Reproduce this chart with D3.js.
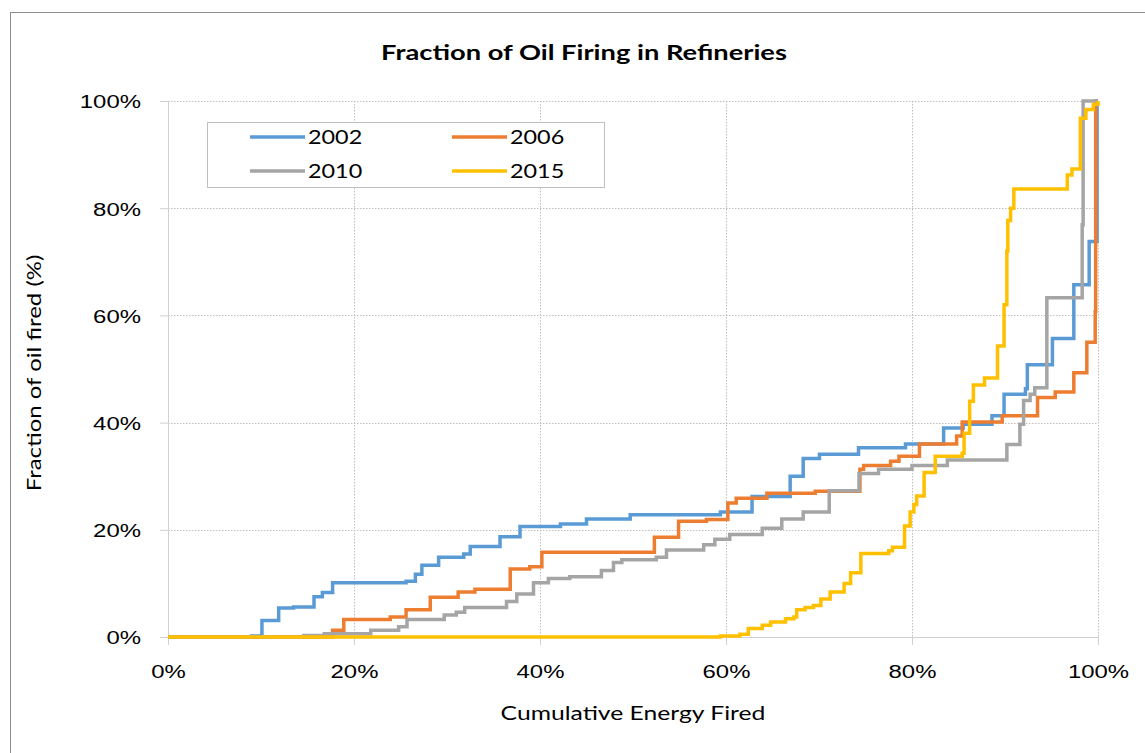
<!DOCTYPE html>
<html>
<head>
<meta charset="utf-8">
<script src="https://cdn.jsdelivr.net/npm/d3@7"></script>
<style>
  body { margin: 0; background: #fff; }
  svg { font-family: Lato, "Open Sans", sans-serif; }
  .grid line { stroke: #bfbfbf; stroke-dasharray: 1.5 1.5; }
  .axis path, .axis line { stroke: #d0d0d0; }
  .axis text { fill: #000; font-size: 19px; }
</style>
</head>
<body>
<div id="chart"></div>
<script>
// series names
var seriesNames = ["2002", "2006", "2010", "2015"];
var seriesColors = ["#5b9bd5", "#ed7d31", "#a5a5a5", "#ffc000"];

// cumulative energy fired (%) - step points
var x2002 = [0, 9.0, 10.1, 11.9, 13.5, 15.7, 16.6, 17.7, 25.6, 26.6, 27.3, 29.1, 31.8, 32.5, 35.7, 37.85, 42.2, 45, 49.7, 59.4, 62.8, 66.9, 68.3, 70.05, 74.25, 79.3, 83.4, 85.5, 88.6, 89.9, 92.2, 92.4, 95.1, 97.4, 99.05, 99.9, 100];
var y2002 = [0, 0.2, 3.1, 5.4, 5.6, 7.5, 8.3, 10.1, 10.4, 11.7, 13.4, 14.9, 15.5, 16.9, 18.7, 20.6, 21.1, 22, 22.8, 23.3, 26.2, 30, 33.3, 34.1, 35.3, 36, 39, 39.7, 41.3, 45.3, 46.3, 50.8, 55.7, 65.7, 73.8, 100, 100];

var x2006 = [0, 17.7, 18.9, 23.9, 25.6, 28.2, 31.2, 33, 36.8, 38.9, 40.2, 52.3, 54.9, 57.9, 60.2, 61.1, 64.4, 69.6, 74.4, 74.8, 77.7, 78.6, 80.8, 84.8, 85.4, 89.7, 93.5, 95.4, 97.4, 98.8, 99.7, 99.75, 100];
var y2006 = [0, 1.25, 3.25, 3.75, 5.1, 7.4, 8.4, 8.9, 12.7, 13.1, 15.8, 18.6, 21.6, 21.9, 25, 25.9, 26.8, 27.2, 31.3, 32, 32.8, 33.7, 36, 37.5, 40.1, 41.3, 44.7, 45.7, 49.3, 55, 60.7, 100, 100];

var x2010 = [0, 14.6, 16.8, 21.8, 24.8, 25.7, 29.7, 31.0, 31.9, 36.4, 37.5, 39.3, 40.9, 43.2, 46.6, 47.9, 48.8, 52.5, 53.6, 57.6, 58.8, 60.4, 63.9, 66, 68.3, 71.1, 74.3, 76.4, 80, 83.8, 90.2, 91.6, 92, 92.7, 93.2, 94.5, 98.3, 98.4, 100];
var y2010 = [0, 0.3, 0.6, 1.25, 1.9, 3.25, 4.1, 4.6, 5.5, 6.6, 8, 10.1, 10.9, 11.25, 12.4, 13.9, 14.4, 14.9, 16.25, 17.2, 18.25, 19.1, 20.3, 22, 23.3, 27.3, 30.5, 31.3, 32, 33, 35.9, 39.7, 44.1, 45.3, 46.5, 63.3, 76.9, 100, 100];

var x2015 = [0, 59.4, 61.5, 62.4, 63.9, 64.8, 66.4, 67.3, 67.6, 68.5, 69.4, 70.2, 71.2, 72.7, 73.4, 74.5, 77.5, 77.9, 79.2, 79.8, 80.2, 80.5, 81.3, 82.5, 85.4, 85.6, 86.2, 86.6, 87.8, 89.2, 89.9, 90.2, 90.3, 90.6, 90.95, 96.7, 97.2, 98.1, 98.7, 99.5, 100];
var y2015 = [0, 0.2, 0.5, 1.6, 2.2, 2.8, 3.4, 3.75, 5.1, 5.5, 5.9, 7.1, 8.4, 10, 12, 15.6, 16.1, 16.75, 20.7, 23.3, 24.7, 26.3, 30.7, 33.7, 34.3, 38, 44, 47, 48.3, 54.3, 62, 72, 77.7, 80, 83.6, 86.2, 87.3, 96.8, 98.4, 99.4, 100];

var tickValues = [0, 20, 40, 60, 80, 100];

var seriesX = [x2002, x2006, x2010, x2015];
var seriesY = [y2002, y2006, y2010, y2015];

var svgWidth = 1145;
var svgHeight = 753;

var margin = { top: 101, left: 168, right: 47, bottom: 116 };
var width = svgWidth - margin.left - margin.right;
var height = svgHeight - margin.top - margin.bottom;

// the text in the picture is wider than Lato, so stretch it a little
var stretch = 1.26;

var svg = d3.select("#chart")
  .append("svg")
  .attr("width", svgWidth)
  .attr("height", svgHeight);

// chart border
svg.append("rect")
  .attr("x", 10.5)
  .attr("y", 12.5)
  .attr("width", 1160)
  .attr("height", 760)
  .attr("fill", "#fff")
  .attr("stroke", "#8c8c8c");

var chartGroup = svg.append("g")
  .attr("transform", `translate(${margin.left}, ${margin.top})`);

var xScale = d3.scaleLinear().domain([0, 100]).range([0, width]);
var yScale = d3.scaleLinear().domain([0, 100]).range([height, 0]);

// gridlines
var grid = chartGroup.append("g").attr("class", "grid");

grid.selectAll("line.h")
  .data(tickValues.slice(1))
  .enter()
  .append("line")
  .attr("class", "h")
  .attr("x1", 0)
  .attr("x2", width)
  .attr("y1", d => Math.round(yScale(d)) + 0.5)
  .attr("y2", d => Math.round(yScale(d)) + 0.5);

grid.selectAll("line.v")
  .data(tickValues.slice(1))
  .enter()
  .append("line")
  .attr("class", "v")
  .attr("y1", 0)
  .attr("y2", height)
  .attr("x1", d => Math.round(xScale(d)) + 0.5)
  .attr("x2", d => Math.round(xScale(d)) + 0.5);

var bottomAxis = d3.axisBottom(xScale)
  .tickValues(tickValues)
  .tickFormat(d => d + "%")
  .tickSize(8)
  .tickSizeOuter(0)
  .tickPadding(20);

var leftAxis = d3.axisLeft(yScale)
  .tickValues(tickValues)
  .tickFormat(d => d + "%")
  .tickSize(8)
  .tickSizeOuter(0)
  .tickPadding(18);

chartGroup.append("g")
  .attr("class", "axis")
  .attr("transform", `translate(0, ${height})`)
  .call(bottomAxis)
  .selectAll("text")
  .attr("dy", "0.71em")
  .attr("transform", `scale(${stretch},1)`);

chartGroup.append("g")
  .attr("class", "axis")
  .call(leftAxis)
  .selectAll("text")
  .attr("dy", "0.36em")
  .attr("x", -27 / stretch)
  .attr("transform", `scale(${stretch},1)`);

// lines
var line = d3.line()
  .x(d => xScale(d[0]))
  .y(d => yScale(d[1]))
  .curve(d3.curveStepAfter);

seriesNames.forEach(function(name, i) {
  var pts = seriesX[i].map((x, j) => [x, seriesY[i][j]]);
  chartGroup.append("path")
    .datum(pts)
    .attr("fill", "none")
    .attr("stroke", seriesColors[i])
    .attr("stroke-width", 3.5)
    .attr("d", line);
});

// title
svg.append("text")
  .attr("transform", `translate(584, 60) scale(1.3,1)`)
  .attr("text-anchor", "middle")
  .attr("font-size", "21px")
  .attr("font-weight", "bold")
  .text("Fraction of Oil Firing in Refineries");

// axis titles
svg.append("text")
  .attr("transform", "translate(41, 373) rotate(-90) scale(1.26,1)")
  .attr("text-anchor", "middle")
  .attr("font-size", "19px")
  .text("Fraction of oil fired (%)");

svg.append("text")
  .attr("transform", "translate(633, 720) scale(1.3,1)")
  .attr("text-anchor", "middle")
  .attr("font-size", "19px")
  .text("Cumulative Energy Fired");

// legend
var legend = svg.append("g");
legend.append("rect")
  .attr("x", 207.5)
  .attr("y", 122.5)
  .attr("width", 397)
  .attr("height", 65)
  .attr("fill", "#fff")
  .attr("stroke", "#bfbfbf");

seriesNames.forEach(function(name, i) {
  var lx = 250 + (i % 2) * 202;
  var ly = 137 + Math.floor(i / 2) * 34;
  legend.append("line")
    .attr("x1", lx)
    .attr("x2", lx + 55)
    .attr("y1", ly)
    .attr("y2", ly)
    .attr("stroke", seriesColors[i])
    .attr("stroke-width", 3.5);
  legend.append("text")
    .attr("transform", `translate(${lx + 58}, ${ly + 7}) scale(1.23,1)`)
    .attr("font-size", "19px")
    .text(name);
});
</script>
</body>
</html>
